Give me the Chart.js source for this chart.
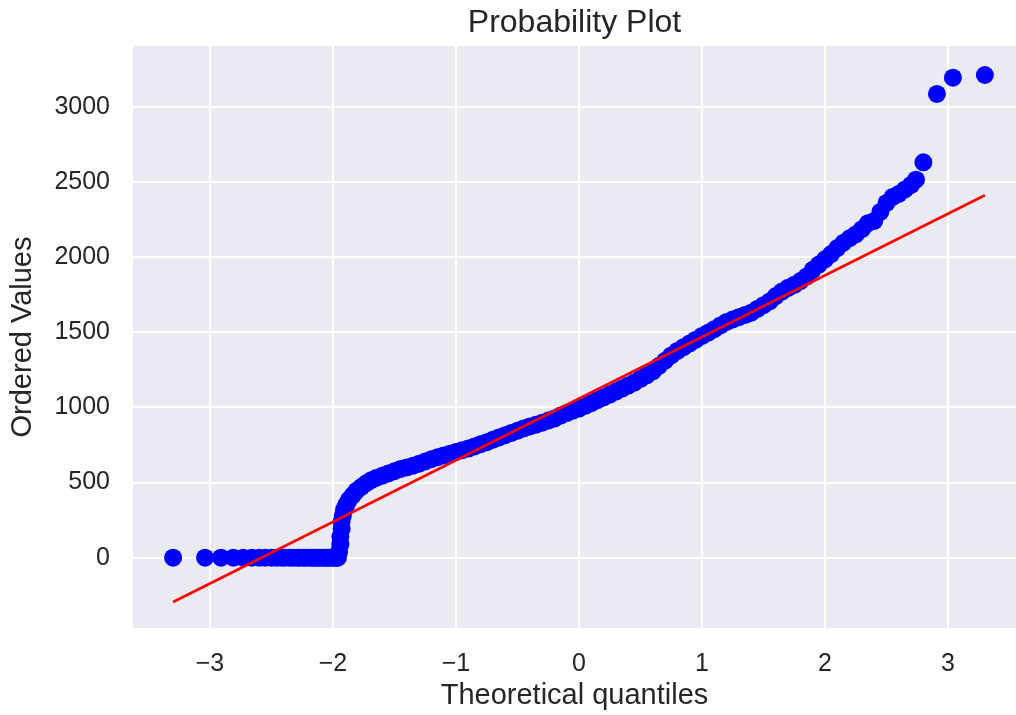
<!DOCTYPE html>
<html>
<head>
<meta charset="utf-8">
<title>Probability Plot</title>
<script src="https://cdn.jsdelivr.net/npm/chart.js@4.4.1/dist/chart.umd.min.js"></script>
<style>
  html, body { margin: 0; padding: 0; background: #ffffff; }
  #wrap { width: 1016px; height: 715px; }
</style>
</head>
<body>
<div id="wrap"><canvas id="qq" width="1016" height="715"></canvas></div>
<script>
// theoretical quantiles (x) and ordered values (y)
const quantiles = [
  -3.30, -3.04, -2.91, -2.81, -2.73, -2.66, -2.60, -2.55, -2.50, -2.46,
  -2.42, -2.39, -2.35, -2.32, -2.29, -2.27, -2.24, -2.22, -2.19, -2.17,
  -2.15, -2.13, -2.11, -2.09, -2.07, -2.05, -2.04, -2.02, -2.00, -1.99,
  -1.97, -1.96,
  -1.95, -1.94, -1.94, -1.93, -1.93, -1.92, -1.91, -1.89, -1.87, -1.84,
  -1.81, -1.77, -1.73, -1.69, -1.65, -1.60, -1.55, -1.50, -1.45, -1.40,
  -1.35, -1.30, -1.25, -1.20, -1.15, -1.10, -1.05, -1.00, -0.95, -0.90,
  -0.85, -0.80, -0.75, -0.70, -0.65, -0.60, -0.55, -0.50, -0.45, -0.40,
  -0.35, -0.30, -0.25, -0.20, -0.15, -0.10, -0.05, 0.00, 0.05, 0.10,
  0.15, 0.20, 0.25, 0.30, 0.35, 0.40, 0.45, 0.50, 0.55, 0.60,
  0.65, 0.70, 0.75, 0.80, 0.85, 0.90, 0.95, 1.00, 1.05, 1.10,
  1.15, 1.20, 1.25, 1.30, 1.35, 1.40, 1.45, 1.50, 1.55, 1.60,
  1.65, 1.70, 1.75, 1.80, 1.85, 1.90, 1.95, 2.00, 2.05, 2.10,
  2.15, 2.20, 2.25, 2.30, 2.35, 2.40, 2.45, 2.50, 2.55, 2.60,
  2.65, 2.70, 2.74, 2.80, 2.91, 3.04, 3.30
];
const orderedValues = [
  0, 0, 0, 0, 0, 0, 0, 0, 0, 0,
  0, 0, 0, 0, 0, 0, 0, 0, 0, 0,
  0, 0, 0, 0, 0, 0, 0, 0, 0, 0,
  0, 0,
  40, 90, 140, 190, 240, 280, 320, 355, 385, 415,
  445, 470, 495, 515, 530, 545, 560, 575, 590, 600,
  612, 625, 640, 655, 668, 680, 692, 703, 715, 726,
  740, 755, 768, 785, 800, 815, 830, 845, 860, 873,
  885, 898, 912, 925, 945, 962, 978, 992, 1010, 1028,
  1048, 1066, 1085, 1105, 1125, 1145, 1165, 1190, 1212, 1240,
  1275, 1310, 1345, 1375, 1400, 1425, 1450, 1475, 1497, 1520,
  1545, 1568, 1585, 1600, 1615, 1630, 1655, 1680, 1705, 1740,
  1770, 1795, 1815, 1840, 1870, 1915, 1950, 1985, 2020, 2060,
  2095, 2125, 2150, 2185, 2225, 2240, 2300, 2360, 2400, 2420,
  2450, 2480, 2515, 2630, 3085, 3193, 3211
];

// least squares line, end points
const fitX = [-3.30, 3.30];
const fitY = [-295, 2411];

const xTicks = [-3, -2, -1, 0, 1, 2, 3];
const yTicks = [0, 500, 1000, 1500, 2000, 2500, 3000];

const textColor = "#262626";
const fontFamily = "'Liberation Sans', Arial, sans-serif";

// grey plot background like seaborn darkgrid
const plotBackground = {
  id: "plotBackground",
  beforeDraw(chart) {
    const { ctx, chartArea: a } = chart;
    ctx.save();
    ctx.fillStyle = "#EAEAF2";
    ctx.fillRect(a.left, a.top, a.right - a.left, a.bottom - a.top);
    ctx.restore();
  }
};

new Chart(document.getElementById("qq"), {
  data: {
    datasets: [
      {
        type: "line",
        data: fitX.map((x, i) => ({ x: x, y: fitY[i] })),
        borderColor: "#FF0000",
        borderWidth: 2.6,
        pointRadius: 0,
        fill: false
      },
      {
        type: "scatter",
        data: quantiles.map((x, i) => ({ x: x, y: orderedValues[i] })),
        backgroundColor: "#0000FF",
        borderColor: "#0000FF",
        borderWidth: 0,
        pointRadius: 9,
        pointHoverRadius: 9
      }
    ]
  },
  options: {
    responsive: false,
    animation: false,
    devicePixelRatio: 1,
    layout: { padding: 0, autoPadding: false },
    plugins: {
      legend: { display: false },
      tooltip: { enabled: false },
      title: {
        display: true,
        fullSize: false,
        text: "Probability Plot",
        color: textColor,
        font: { family: fontFamily, size: 32, weight: "normal" },
        padding: { top: 4, bottom: 3.6 }
      }
    },
    scales: {
      x: {
        type: "linear",
        min: -3.626,
        max: 3.553,
        afterBuildTicks: s => { s.ticks = xTicks.map(v => ({ value: v })); },
        afterFit: s => { s.height = 87; s.paddingLeft = 0; s.paddingRight = 0; },
        grid: { color: "#FFFFFF", lineWidth: 2, drawTicks: false },
        border: { display: false },
        ticks: {
          color: textColor,
          padding: 21,
          font: { family: fontFamily, size: 25 },
          callback: v => (v < 0 ? "\u2212" + Math.abs(v) : String(v))
        },
        title: {
          display: true,
          text: "Theoretical quantiles",
          color: textColor,
          font: { family: fontFamily, size: 29 },
          padding: { top: 0, bottom: 2 }
        }
      },
      y: {
        type: "linear",
        min: -468,
        max: 3404,
        afterBuildTicks: s => { s.ticks = yTicks.map(v => ({ value: v })); },
        afterFit: s => { s.width = 133; s.paddingTop = 0; s.paddingBottom = 0; },
        grid: { color: "#FFFFFF", lineWidth: 2, drawTicks: false },
        border: { display: false },
        ticks: {
          color: textColor,
          padding: 23,
          font: { family: fontFamily, size: 25 },
          callback: v => String(v)
        },
        title: {
          display: true,
          text: "Ordered Values",
          color: textColor,
          font: { family: fontFamily, size: 29 },
          padding: { top: 6, bottom: 0 }
        }
      }
    }
  },
  plugins: [plotBackground]
});
</script>
</body>
</html>
